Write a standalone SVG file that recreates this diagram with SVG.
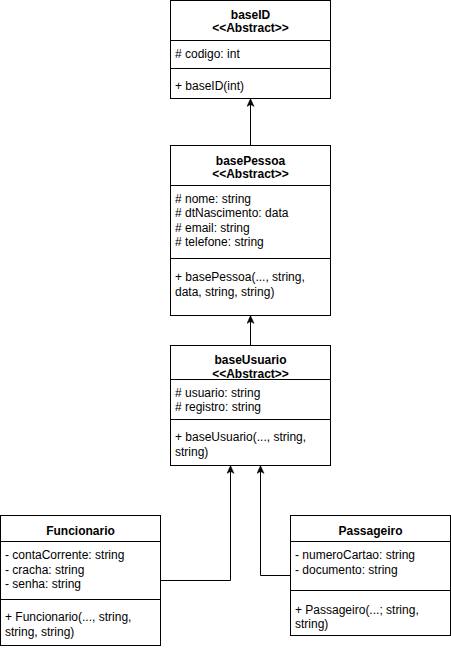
<svg xmlns="http://www.w3.org/2000/svg" width="451" height="649" viewBox="0 0 451 649">
<defs>
<style>
.box{fill:#fff;stroke:#000;stroke-width:1}
.div{stroke:#000;stroke-width:1}
text{font-family:"Liberation Sans",Arial,Helvetica,sans-serif;font-size:12px;fill:#000}
.t{font-weight:bold;text-anchor:middle}
.e{fill:none;stroke:#000;stroke-width:1}
</style>
<marker id="arr" viewBox="0 0 10 10" refX="10" refY="5" markerWidth="8" markerHeight="8" markerUnits="userSpaceOnUse" orient="auto">
<path d="M10,5 L0,0.5 L2.5,5 L0,9.5 Z" fill="#000" stroke="#000" stroke-width="0.5"/>
</marker>
</defs>
<rect width="451" height="649" fill="#fff"/>
<g id="connectors">
<path class="e" d="M250.5,145.5 L250.5,98.5" marker-end="url(#arr)"/>
<path class="e" d="M250.5,345.5 L250.5,315.5" marker-end="url(#arr)"/>
<path class="e" d="M160.5,580.5 L230.5,580.5 L230.5,465.5" marker-end="url(#arr)"/>
<path class="e" d="M290.5,575.5 L260.5,575.5 L260.5,465.5" marker-end="url(#arr)"/>
</g>
<g id="baseID">
<rect class="box" x="170.5" y="0.5" width="160" height="98"/>
<line class="div" x1="170.5" y1="40.5" x2="330.5" y2="40.5"/>
<line class="div" x1="170.5" y1="68.5" x2="330.5" y2="68.5"/>
<text class="t" x="250.5" y="18.5">baseID</text>
<text class="t" x="250.5" y="31.5">&lt;&lt;Abstract&gt;&gt;</text>
<text x="175" y="58">#&#160;codigo: int</text>
<text x="175" y="90">+ baseID(int)</text>
</g>
<g id="basePessoa">
<rect class="box" x="170.5" y="145.5" width="160" height="170"/>
<line class="div" x1="170.5" y1="185.5" x2="330.5" y2="185.5"/>
<line class="div" x1="170.5" y1="258.5" x2="330.5" y2="258.5"/>
<text class="t" x="250.5" y="164.5">basePessoa</text>
<text class="t" x="250.5" y="178">&lt;&lt;Abstract&gt;&gt;</text>
<text x="175" y="203"># nome: string</text>
<text x="175" y="217"># dtNascimento: data</text>
<text x="175" y="231.5"># email: string</text>
<text x="175" y="245.5"># telefone: string</text>
<text x="175" y="281">+ basePessoa(..., string,</text>
<text x="175" y="296">data, string, string)</text>
</g>
<g id="baseUsuario">
<rect class="box" x="170.5" y="345.5" width="160" height="120"/>
<line class="div" x1="170.5" y1="379.5" x2="330.5" y2="379.5"/>
<line class="div" x1="170.5" y1="419.5" x2="330.5" y2="419.5"/>
<text class="t" x="250.5" y="364">baseUsuario</text>
<text class="t" x="250.5" y="377.5">&lt;&lt;Abstract&gt;&gt;</text>
<text x="175" y="396.5"># usuario: string</text>
<text x="175" y="411"># registro: string</text>
<text x="175" y="441">+ baseUsuario(..., string,</text>
<text x="175" y="456">string)</text>
</g>
<g id="Funcionario">
<rect class="box" x="0.5" y="515.5" width="160" height="130"/>
<line class="div" x1="0.5" y1="541.5" x2="160.5" y2="541.5"/>
<line class="div" x1="0.5" y1="599.5" x2="160.5" y2="599.5"/>
<text class="t" x="80.5" y="534.5">Funcionario</text>
<text x="5" y="559">- contaCorrente: string</text>
<text x="5" y="573.5">- cracha: string</text>
<text x="5" y="588">- senha: string</text>
<text x="5" y="621">+ Funcionario(..., string,</text>
<text x="5" y="636">string, string)</text>
</g>
<g id="Passageiro">
<rect class="box" x="290.5" y="515.5" width="160" height="120"/>
<line class="div" x1="290.5" y1="541.5" x2="450.5" y2="541.5"/>
<line class="div" x1="290.5" y1="590.5" x2="450.5" y2="590.5"/>
<text class="t" x="370.5" y="534.5">Passageiro</text>
<text x="295" y="559">- numeroCartao: string</text>
<text x="295" y="573.5">- documento: string</text>
<text x="295" y="613.5">+ Passageiro(...; string,</text>
<text x="295" y="628">string)</text>
</g>
</svg>
